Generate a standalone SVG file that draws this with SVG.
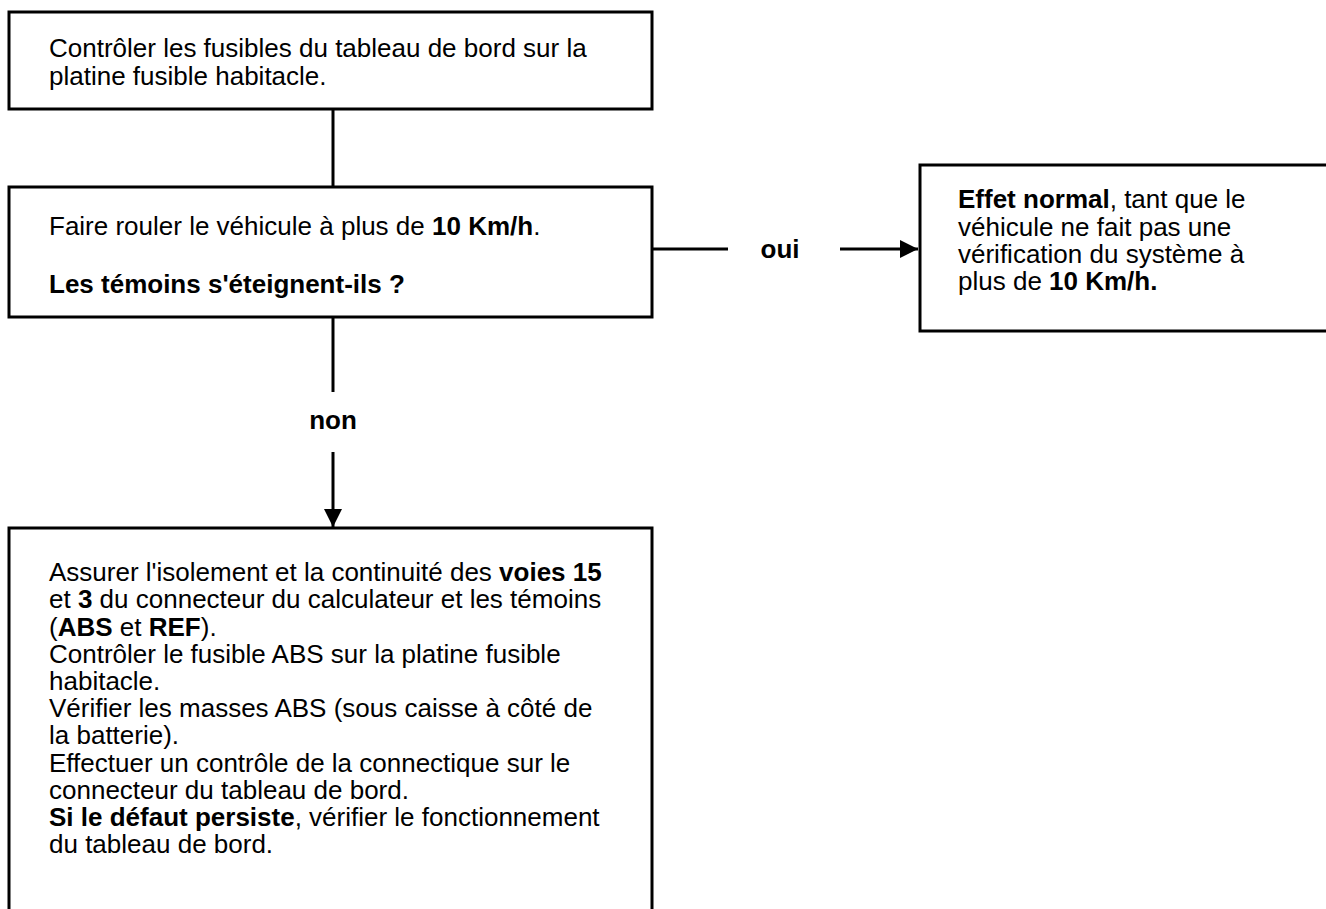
<svg xmlns="http://www.w3.org/2000/svg" width="1326" height="909" viewBox="0 0 1326 909">
  <style>
    .box { fill: #ffffff; stroke: #000000; stroke-width: 3; }
    .txt { font-family: "Liberation Sans", Arial, sans-serif; font-size: 26px; fill: #000000; }
    .b { font-weight: bold; }
    .lbl { font-family: "Liberation Sans", Arial, sans-serif; font-size: 26px; font-weight: bold; fill: #000000; text-anchor: middle; }
    .wire { fill: none; stroke: #000000; stroke-width: 3; }
  </style>
  <defs>
    <marker id="arrow" viewBox="0 0 10 10" refX="10" refY="5" markerWidth="6" markerHeight="6" markerUnits="strokeWidth" orient="auto">
      <path d="M0,0 L10,5 L0,10 Z" fill="#000000"/>
    </marker>
  </defs>
  <rect width="1326" height="909" fill="#ffffff"/>

  <g id="connectors">
    <line class="wire" x1="333" y1="109" x2="333" y2="187"/>
    <line class="wire" x1="652" y1="249" x2="728" y2="249"/>
    <line class="wire" x1="840" y1="249" x2="918" y2="249" marker-end="url(#arrow)"/>
    <line class="wire" x1="333" y1="317" x2="333" y2="392"/>
    <line class="wire" x1="333" y1="452" x2="333" y2="527" marker-end="url(#arrow)"/>
    <text class="lbl" x="780" y="258">oui</text>
    <text class="lbl" x="333" y="429">non</text>
  </g>

  <g id="node-fusibles">
    <rect class="box" x="9" y="12" width="643" height="97"/>
    <text class="txt" x="49" y="57">Contrôler les fusibles du tableau de bord sur la</text>
    <text class="txt" x="49" y="85">platine fusible habitacle.</text>
  </g>

  <g id="node-rouler">
    <rect class="box" x="9" y="187" width="643" height="130"/>
    <text class="txt" x="49" y="235">Faire rouler le véhicule à plus de <tspan class="b">10 Km/h</tspan>.</text>
    <text class="txt b" x="49" y="293">Les témoins s'éteignent-ils ?</text>
  </g>

  <g id="node-effet">
    <rect class="box" x="920" y="165" width="420" height="166"/>
    <text class="txt" x="958" y="208"><tspan class="b">Effet normal</tspan>, tant que le</text>
    <text class="txt" x="958" y="236">véhicule ne fait pas une</text>
    <text class="txt" x="958" y="263">vérification du système à</text>
    <text class="txt" x="958" y="290">plus de <tspan class="b">10 Km/h.</tspan></text>
  </g>

  <g id="node-controles">
    <rect class="box" x="9" y="528" width="643" height="400"/>
    <text class="txt" x="49" y="581">Assurer l'isolement et la continuité des <tspan class="b">voies 15</tspan></text>
    <text class="txt" x="49" y="608">et <tspan class="b">3</tspan> du connecteur du calculateur et les témoins</text>
    <text class="txt" x="49" y="636">(<tspan class="b">ABS</tspan> et <tspan class="b">REF</tspan>).</text>
    <text class="txt" x="49" y="663">Contrôler le fusible ABS sur la platine fusible</text>
    <text class="txt" x="49" y="690">habitacle.</text>
    <text class="txt" x="49" y="717">Vérifier les masses ABS (sous caisse à côté de</text>
    <text class="txt" x="49" y="744">la batterie).</text>
    <text class="txt" x="49" y="772">Effectuer un contrôle de la connectique sur le</text>
    <text class="txt" x="49" y="799">connecteur du tableau de bord.</text>
    <text class="txt" x="49" y="826"><tspan class="b">Si le défaut persiste</tspan>, vérifier le fonctionnement</text>
    <text class="txt" x="49" y="853">du tableau de bord.</text>
  </g>
</svg>
